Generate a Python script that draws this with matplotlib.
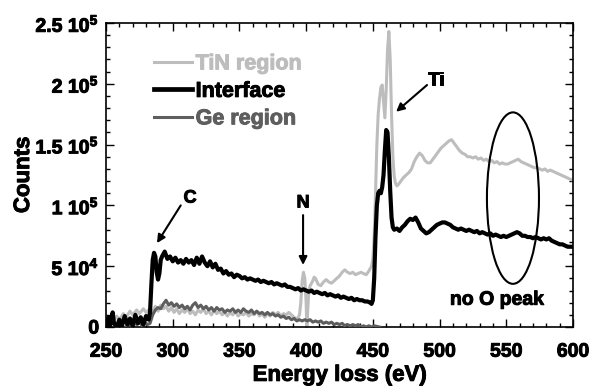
import matplotlib
matplotlib.use("Agg")
import matplotlib.pyplot as plt
from matplotlib.patches import Ellipse
from matplotlib.lines import Line2D
from matplotlib.ticker import MultipleLocator
import matplotlib.patheffects as pe

plt.rcParams['font.family'] = ['Liberation Sans', 'DejaVu Sans']
plt.rcParams['font.weight'] = 'bold'
plt.rcParams['mathtext.fontset'] = 'custom'
plt.rcParams['mathtext.rm'] = 'Liberation Sans:bold'
plt.rcParams['mathtext.bf'] = 'Liberation Sans:bold'
plt.rcParams['mathtext.default'] = 'rm'

# ---------------- data (counts in units of 1e3) ----------------
interface_E = [250, 252, 253, 255, 256, 258, 260, 262, 264, 266, 268, 270, 272, 274, 276, 278, 280, 282, 283,
               284, 285, 286, 287, 288, 289, 290, 291, 292, 294, 295, 296, 298, 300, 302, 304, 306, 308, 310,
               312, 314, 316, 318, 320, 322, 324, 326, 328, 330, 332, 334, 336, 338, 340, 342, 344, 346, 348,
               350, 352, 354, 356, 358, 360, 362, 364, 366, 368, 370, 372, 374, 376, 378, 380, 382, 384, 386,
               388, 390, 392, 394, 396, 398, 400, 402, 404, 406, 408, 410, 412, 414, 416, 418, 420, 422, 424,
               426, 428, 430, 432, 434, 436, 438, 440, 442, 444, 446, 448, 449, 450, 451, 452, 453, 454, 455,
               456, 457, 458, 459, 460, 461, 462, 463, 464, 465, 466, 468, 470, 472, 474, 476, 478, 480, 482,
               484, 486, 488, 490, 492, 494, 496, 498, 500, 502, 504, 506, 508, 510, 512, 514, 516, 518, 520,
               522, 524, 526, 528, 530, 532, 534, 536, 538, 540, 542, 544, 546, 548, 550, 552, 554, 556, 558,
               560, 562, 564, 566, 568, 570, 572, 574, 576, 578, 580, 582, 584, 586, 588, 590, 592, 594, 596,
               598, 600]
interface_k = [2, 8, 1, 12, 3, 0, 6, 1, 9, 2, 7, 1, 10, 3, 8, 2, 9, 6, 12,
               35, 55, 61, 58, 45, 39, 44, 55, 58, 62, 59, 56, 58, 54, 57, 53, 55, 52, 56,
               53, 55, 51, 57, 52, 58, 53, 50, 54, 49, 52, 47, 48, 44, 46, 43, 44, 41, 43,
               42, 40, 41, 39, 40, 39, 38, 39, 37, 38, 37, 36, 37, 35, 36, 35, 34, 35, 33,
               33, 32, 31, 32, 30, 31, 30, 29, 30, 28, 29, 28, 27, 28, 26, 27, 26, 25, 26,
               24, 25, 24, 23, 24, 22, 23, 22, 22, 21, 21, 20, 19, 22, 40, 75, 100, 110, 112,
               110, 115, 125, 145, 162, 160, 140, 112, 90, 82, 80, 81, 79, 82, 84, 87, 89, 88, 90,
               86, 81, 79, 77, 78, 80, 82, 84, 85, 86, 86, 85, 84, 82, 81, 80, 81, 80, 79,
               80, 79, 78, 79, 77, 78, 77, 76, 77, 75, 76, 75, 74, 75, 74, 75, 76, 77, 78,
               77, 75, 75, 74, 74, 73, 74, 73, 72, 73, 72, 73, 71, 70, 69, 68, 68, 67, 66,
               66, 66]

tin_E = [250, 253, 255, 258, 260, 263, 265, 268, 270, 273, 275, 278, 280, 283,
         285, 287, 289, 291, 293, 295, 297, 299, 301, 303, 305, 307, 309, 311, 313, 315, 317, 319, 321,
         323, 325, 327, 329, 331, 333, 335, 337, 339, 341, 343, 345, 347, 349, 351, 353, 355, 357, 359,
         361, 363, 365, 367, 369, 371, 373, 375, 377, 379, 381, 383, 385, 387, 389, 391, 393, 395, 396,
         397, 398, 399, 400, 400.5, 401, 402, 403, 405, 406, 407, 409, 411, 413, 415, 417, 419, 421, 423,
         425, 427, 429, 431, 433, 435, 437, 439, 441, 443, 445, 447, 449, 450, 451, 452, 453, 454, 455,
         456, 457, 458, 459, 460, 461, 462, 463, 464, 465, 466, 467, 468, 469, 471, 473, 475, 477, 479,
         481, 483, 485, 487, 489, 491, 493, 495, 497, 499, 501, 503, 505, 507, 509, 511, 513, 515, 517,
         519, 521, 523, 525, 527, 529, 531, 533, 535, 537, 539, 541, 543, 545, 547, 549, 551, 553, 555,
         557, 559, 561, 563, 565, 567, 569, 571, 573, 575, 577, 579, 581, 583, 585, 587, 589, 591, 593,
         595, 597, 599, 600]
tin_k = [3, 7, 4, 9, 6, 11, 8, 13, 10, 14, 11, 15, 12, 15,
         12, 17, 13, 18, 15, 17, 13, 16, 12, 15, 11, 14, 12, 15, 11, 13, 10, 14, 12,
         15, 11, 13, 10, 14, 11, 13, 10, 12, 9, 12, 10, 13, 9, 11, 10, 12, 9, 11,
         10, 13, 9, 11, 8, 11, 9, 12, 10, 12, 9, 11, 10, 12, 10, 8, 6, 10, 20,
         38, 45, 40, 20, 0, 10, 30, 34, 38, 41, 40, 35, 34, 37, 39, 37, 36, 38, 40,
         42, 45, 47, 45, 44, 45, 43, 44, 45, 44, 43, 46, 50, 56, 75, 110, 150, 175, 188,
         197, 199, 185, 172, 195, 228, 243, 220, 175, 140, 124, 118, 116, 117, 120, 123, 125, 127, 130,
         136, 140, 143, 141, 137, 135, 135, 138, 141, 144, 147, 149, 151, 153, 154, 151, 148, 145, 143,
         142, 140, 140, 139, 140, 138, 139, 137, 138, 136, 137, 135, 136, 134, 135, 134, 134, 135, 136,
         137, 138, 136, 135, 134, 133, 132, 131, 131, 130, 129, 130, 128, 129, 128, 127, 126, 125, 124,
         123, 122, 121, 121]

ge_E = [265, 267, 269, 271, 273, 275, 277, 279, 281, 283, 285, 287, 289, 291, 293, 295, 297, 299, 301,
        303, 305, 307, 309, 311, 313, 315, 317, 319, 321, 323, 325, 327, 329, 331, 333, 335, 337, 339,
        341, 343, 345, 347, 349, 351, 353, 355, 357, 359, 361, 363, 365, 367, 369, 371, 373, 375, 377,
        379, 381, 383, 385, 387, 389, 391, 393, 395, 397, 399, 401, 403, 405, 407, 409, 411, 413, 415,
        417, 419, 421, 423, 425, 427, 429, 431, 433, 435, 437, 439, 441, 443, 445, 447, 449, 451, 455]
ge_k = [0, 3, 1, 4, 2, 5, 1, 4, 2, 3, 10, 14, 16, 15, 19, 22, 18, 20, 17,
        19, 16, 18, 15, 17, 14, 18, 20, 16, 18, 15, 17, 14, 16, 13, 16, 14, 15, 12,
        14, 13, 15, 12, 14, 12, 15, 13, 12, 14, 11, 13, 11, 12, 10, 12, 10, 11, 9,
        10, 8, 9, 7, 8, 6, 7, 5, 6, 5, 6, 5, 6, 4, 5, 4, 5, 3, 4,
        3, 4, 2, 3, 2, 3, 1, 2, 1, 2, 1, 2, 0, 1, 0, 1, 0, 1, 0]

series_labels = ["TiN region", "Interface", "Ge region"]
series_colors = ["#bdbdbd", "#000000", "#5e5e5e"]

x_ticks = [250, 300, 350, 400, 450, 500, 550, 600]
y_ticks = [0, 50000, 100000, 150000, 200000, 250000]
y_tick_labels = ["0", "5 10$^4$", "1 10$^5$", "1.5 10$^5$", "2 10$^5$", "2.5 10$^5$"]

# ---------------- figure ----------------
fig = plt.figure(figsize=(5.91, 3.92), dpi=100)
ax = fig.add_axes([106/591, 1-327/392, 467/591, 304/392])

ax.plot(tin_E, [v*1e3 for v in tin_k], color=series_colors[0], lw=2.2, zorder=2)
ax.plot(ge_E, [v*1e3 for v in ge_k], color=series_colors[2], lw=2.2, zorder=3)
ax.plot(interface_E, [v*1e3 for v in interface_k], color=series_colors[1], lw=3.0, zorder=4)

ax.set_xlim(250, 600)
ax.set_ylim(0, 250000)
ax.set_xticks(x_ticks)
ax.set_xticklabels([str(t) for t in x_ticks])
ax.set_yticks(y_ticks)
ax.set_yticklabels(y_tick_labels)
ax.xaxis.set_minor_locator(MultipleLocator(10))
ax.yaxis.set_minor_locator(MultipleLocator(10000))
ax.tick_params(which='both', direction='in', top=True, right=True, labelsize=14, width=1)
ax.tick_params(which='major', length=6)
ax.tick_params(which='minor', length=3)
ax.tick_params(axis='x', pad=12)
ax.tick_params(axis='y', pad=5)
for s in ax.spines.values():
    s.set_linewidth(1.2)

bold_fx = [pe.withStroke(linewidth=0.7, foreground='k')]
for lab in ax.get_xticklabels() + ax.get_yticklabels():
    lab.set_path_effects(bold_fx)

ax.set_xlabel("Energy loss (eV)", fontsize=16, fontweight='bold', labelpad=3, path_effects=bold_fx)
ax.set_ylabel("Counts", fontsize=16, fontweight='bold', labelpad=1, path_effects=bold_fx)

# legend
handles = [Line2D([], [], color=series_colors[0], lw=2.2),
           Line2D([], [], color=series_colors[1], lw=3.4),
           Line2D([], [], color=series_colors[2], lw=2.2)]
leg = ax.legend(handles, series_labels, loc='upper left', bbox_to_anchor=(0.102, 0.9),
                frameon=False, labelcolor='linecolor', handlelength=1.8, handletextpad=0.15,
                labelspacing=0.3, borderpad=0, borderaxespad=0,
                prop={'size': 15.5, 'weight': 'bold'})
for t, c in zip(leg.get_texts(), series_colors):
    t.set_path_effects([pe.withStroke(linewidth=0.7, foreground=c)])

# annotations
arrow = dict(arrowstyle='-|>', lw=1.5, color='k', mutation_scale=12, shrinkA=0, shrinkB=0)
ax.annotate("", xy=(288.2, 69000), xytext=(306, 100000), arrowprops=arrow)
ax.text(313, 106000, "C", fontsize=13, fontweight='bold', ha='center', va='center', path_effects=bold_fx)
ax.annotate("", xy=(397.7, 51000), xytext=(397.7, 92000), arrowprops=arrow)
ax.text(397.7, 102000, "N", fontsize=13, fontweight='bold', ha='center', va='center', path_effects=bold_fx)
ax.annotate("", xy=(467.4, 177000), xytext=(490.6, 199000), arrowprops=arrow)
ax.text(497.4, 203000, "Ti", fontsize=13, fontweight='bold', ha='center', va='center', path_effects=bold_fx)

ax.add_patch(Ellipse((555, 106000), width=39, height=141000, fill=False, lw=1.5, edgecolor='k', zorder=5))
ax.text(543, 22000, "no O peak", fontsize=14, fontweight='bold', ha='center', va='center', path_effects=bold_fx)

fig.savefig("out.png", dpi=100)
